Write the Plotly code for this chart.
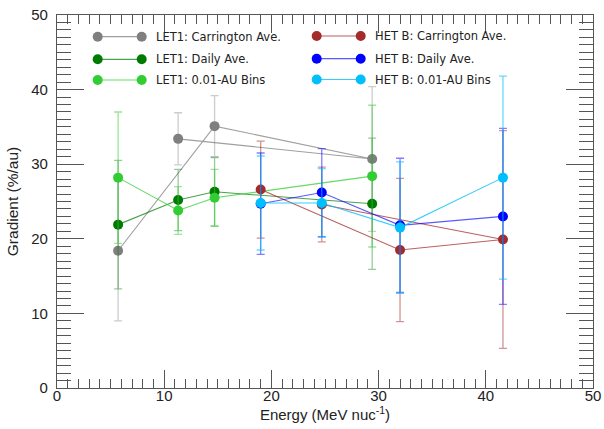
import plotly.graph_objects as go

# ---------------- data ----------------
energy_let = [5.7, 11.3, 14.7, 29.4]
energy_het = [19.0, 24.7, 32.0, 41.6]
carr_order = [0, 2, 3, 1]  # connection order of the Carrington-average points

let_carr = [18.4, 33.4, 35.1, 30.7]
let_carr_err = [9.4, 3.5, 4.1, 9.7]
let_daily = [21.9, 25.2, 26.3, 24.7]
let_daily_err = [8.6, 4.1, 4.6, 8.8]
let_bins = [28.2, 23.8, 25.5, 28.4]
let_bins_err = [8.8, 3.2, 3.8, 9.5]

het_carr = [26.6, 24.6, 18.5, 19.9]
het_carr_err = [6.5, 5.0, 9.6, 14.6]
het_daily = [24.7, 26.2, 21.8, 23.0]
het_daily_err = [6.8, 5.9, 9.0, 11.8]
het_bins = [24.8, 24.8, 21.5, 28.2]
het_bins_err = [6.3, 4.6, 8.8, 13.6]

names = ["LET1: Carrington Ave.", "LET1: Daily Ave.", "LET1: 0.01-AU Bins",
         "HET B: Carrington Ave.", "HET B: Daily Ave.", "HET B: 0.01-AU Bins"]

x_ticks = [0, 10, 20, 30, 40, 50]
y_ticks = [0, 10, 20, 30, 40, 50]

# ---------------- styles ----------------
marker_cols = ["#7f7f7f", "#007a00", "#32cd32", "#a52a2a", "#0000ff", "#00bfff"]
line_cols = ["rgba(127,127,127,0.75)", "rgba(0,122,0,0.7)", "rgba(50,205,50,0.75)",
             "rgba(165,42,42,0.75)", "rgba(0,0,255,0.65)", "rgba(0,191,255,0.8)"]
err_cols = ["rgba(127,127,127,0.4)", "rgba(0,122,0,0.4)", "rgba(50,205,50,0.5)",
            "rgba(165,42,42,0.5)", "rgba(0,0,255,0.5)", "rgba(0,191,255,0.6)"]

series = [
    (energy_let, let_carr, let_carr_err, True),
    (energy_let, let_daily, let_daily_err, False),
    (energy_let, let_bins, let_bins_err, False),
    (energy_het, het_carr, het_carr_err, True),
    (energy_het, het_daily, het_daily_err, False),
    (energy_het, het_bins, het_bins_err, False),
]

fig = go.Figure()
for i, (xs, ys, es, reorder) in enumerate(series):
    idx = carr_order if reorder else list(range(len(xs)))
    fig.add_trace(go.Scatter(
        x=[xs[k] for k in idx], y=[ys[k] for k in idx],
        mode="lines+markers", name=names[i], showlegend=False,
        line=dict(color=line_cols[i], width=1.1),
        marker=dict(color=marker_cols[i], size=10, line=dict(width=0)),
        error_y=dict(type="data", array=[es[k] for k in idx], visible=True,
                     color=err_cols[i], thickness=1.3, width=4),
    ))

# ---------------- layout geometry ----------------
FIG_W, FIG_H = 604, 429
L, R, T, B = 57, 593, 15, 388  # plot area in pixels
W, H = R - L, B - T


def px2paper(px, py):
    return (px - L) / W, (B - py) / H


# ---------------- custom legend (IDL style) ----------------
leg_pos = [(97.7, 141.7, 36.7), (97.7, 141.7, 59.3), (97.7, 141.7, 80.0),
           (316.7, 360.7, 36.0), (316.7, 360.7, 58.7), (316.7, 360.7, 79.5)]
shapes = []
annotations = []
for i, (xa, xb, yy) in enumerate(leg_pos):
    x0, y0 = px2paper(xa, yy)
    x1, _ = px2paper(xb, yy)
    shapes.append(dict(type="line", xref="paper", yref="paper", x0=x0, x1=x1, y0=y0, y1=y0,
                       line=dict(color=line_cols[i], width=1.2)))
    for xc in (x0, x1):
        shapes.append(dict(type="circle", xref="paper", yref="paper",
                           xsizemode="pixel", ysizemode="pixel",
                           xanchor=xc, yanchor=y0, x0=-5, x1=5, y0=-5, y1=5,
                           fillcolor=marker_cols[i], line=dict(width=0)))
    tx, _ = px2paper(xb + 12, yy)
    annotations.append(dict(text=names[i], xref="paper", yref="paper", x=tx, y=y0,
                            xanchor="left", yanchor="middle", showarrow=False,
                            font=dict(family="DejaVu Sans", size=11.5, color="#222")))

axis_common = dict(
    showline=True, linecolor="#555", linewidth=1.2, mirror="allticks",
    ticks="inside", tickcolor="#555", tickwidth=1,
    showgrid=False, zeroline=False, automargin=False, ticklabeloverflow="allow",
    tickfont=dict(family="Liberation Sans", size=15, color="#222"),
)

fig.update_layout(
    width=FIG_W, height=FIG_H,
    margin=dict(l=L, r=FIG_W - R, t=T, b=FIG_H - B),
    paper_bgcolor="white", plot_bgcolor="white",
    shapes=shapes, annotations=annotations,
    xaxis=dict(range=[0, 50], tickvals=x_ticks, ticklen=18, ticklabelstandoff=-6,
               minor=dict(dtick=1, ticklen=9, ticks="inside", tickcolor="#555"),
               title=dict(text="Energy (MeV nuc<sup>-1</sup>)", standoff=0,
                          font=dict(family="Liberation Sans", size=15, color="#222")),
               **axis_common),
    yaxis=dict(range=[0, 50], tickvals=y_ticks, ticklen=27, ticklabelstandoff=5,
               minor=dict(dtick=1, ticklen=14, ticks="inside", tickcolor="#555"),
               title=dict(text="Gradient (%/au)", standoff=8,
                          font=dict(family="Liberation Sans", size=15.5, color="#222")),
               **axis_common),
)

fig.write_html("out.html", config={"displayModeBar": False},
               post_script="document.body.style.margin='0';document.body.style.overflow='hidden';")
